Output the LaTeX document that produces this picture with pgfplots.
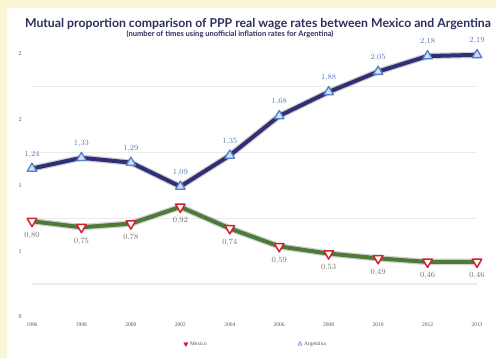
\documentclass[border=0pt]{standalone}
\usepackage{pgfplots}
\pgfplotsset{compat=1.18}
\usepackage{fontspec}
\setmainfont{Liberation Serif}
\newfontfamily\titlefont{Lato}
\definecolor{bgyel}{HTML}{F9F5D5}
\definecolor{argline}{HTML}{302E74}
\definecolor{argfill}{HTML}{CFE0F5}
\definecolor{argedge}{HTML}{5580C8}
\definecolor{arglab}{HTML}{5A7CB8}
\definecolor{mexline}{HTML}{4E7A38}
\definecolor{mexedge}{HTML}{D02232}
\definecolor{mexlab}{HTML}{6E7264}
\definecolor{titlecol}{HTML}{2C2F5E}
\definecolor{tickcol}{HTML}{555555}
\begin{document}
\begin{tikzpicture}[x=1bp,y=1bp]
\fill[bgyel] (0,0) rectangle (496,358);
\fill[white] (7,0) rectangle (496,350);
\node[font=\titlefont\bfseries\fontsize{12.3}{14}\selectfont, text=titlecol] at (258,334) {Mutual proportion comparison of PPP real wage rates between Mexico and Argentina};
\node[font=\titlefont\bfseries\fontsize{7.6}{9}\selectfont, text=titlecol] at (230,323.5) {(number of times using unofficial inflation rates for Argentina)};
\begin{axis}[
  at={(32bp,41bp)}, anchor=south west,
  scale only axis, width=445bp, height=275.3bp,
  xmin=0, xmax=9, ymin=0, ymax=2.3,
  clip=false,
  axis line style={draw=none},
  major tick length=0pt,
  xtick={0,...,9},
  xticklabels={1996,1998,2000,2002,2004,2006,2008,2010,2012,2013},
  xticklabel style={anchor=center, yshift=-8bp, font=\fontsize{5.5}{6}\selectfont, text=tickcol},
  ytick={0,0.55,1.1,1.65,2.2},
  yticklabels={0,1,1,2,2},
  yticklabel style={anchor=center, xshift=-12bp, font=\fontsize{6}{7}\selectfont, text=tickcol},
  extra y ticks={0.275,0.825,1.375,1.925},
  extra y tick labels={},
  extra y tick style={grid=major, major grid style={draw=black!8, line width=1.2bp}},
  legend style={at={(0.503,-0.098)}, anchor=center, draw=none, fill=none,
    font=\fontsize{5.5}{6}\selectfont, text=tickcol, legend columns=2,
    /tikz/every even column/.append style={column sep=89bp}},
]
% shadows
\addplot[forget plot, black, opacity=0.18, line width=6.5bp, line join=round] coordinates {
(0,1.24) (1,1.33) (2,1.29) (3,1.09) (4,1.35) (5,1.68) (6,1.88) (7,2.05) (8,2.18) (9,2.19)};
\addplot[forget plot, black, opacity=0.18, line width=6.5bp, line join=round] coordinates {
(0,0.80) (1,0.75) (2,0.78) (3,0.92) (4,0.74) (5,0.59) (6,0.53) (7,0.49) (8,0.46) (9,0.46)};
% Argentina
\addplot[forget plot, argline, line width=4bp, line join=round,
  mark=triangle*, mark size=5.5bp, mark options={fill=argfill, draw=argedge, line width=1.3bp},
  nodes near coords={\pgfmathprintnumber[fixed,fixed zerofill,precision=2,use comma]{\pgfplotspointmeta}},
  every node near coord/.append style={anchor=center, yshift=14bp, font=\fontsize{8}{9}\selectfont, text=arglab}]
coordinates {
(0,1.24) (1,1.33) (2,1.29) (3,1.09) (4,1.35) (5,1.68) (6,1.88) (7,2.05) (8,2.18) (9,2.19)};
% Mexico
\addplot[forget plot, mexline, line width=4bp, line join=round,
  mark=triangle*, mark size=5.5bp, mark options={rotate=180, fill=white, draw=mexedge, line width=1.5bp},
  nodes near coords={\pgfmathprintnumber[fixed,fixed zerofill,precision=2,use comma]{\pgfplotspointmeta}},
  every node near coord/.append style={anchor=center, yshift=-14bp, font=\fontsize{8}{9}\selectfont, text=mexlab}]
coordinates {
(0,0.80) (1,0.75) (2,0.78) (3,0.92) (4,0.74) (5,0.59) (6,0.53) (7,0.49) (8,0.46) (9,0.46)};
\addlegendimage{only marks, mark=triangle*, mark size=2.5bp, mark options={rotate=180, fill=mexedge, draw=mexedge}}
\addlegendentry{Mexico}
\addlegendimage{only marks, mark=triangle*, mark size=2.5bp, mark options={fill=argfill, draw=argedge}}
\addlegendentry{Argentina}
\end{axis}
\end{tikzpicture}
\end{document}
